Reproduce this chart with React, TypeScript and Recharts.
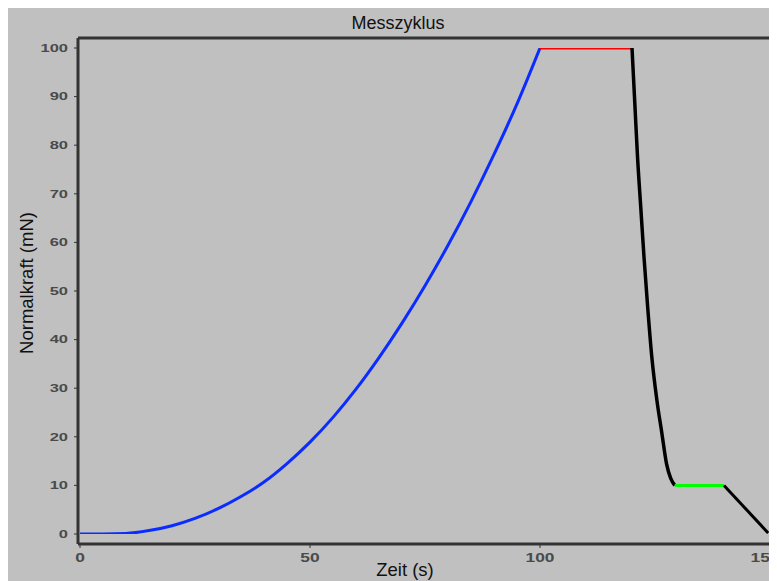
import React from 'react';
import { LineChart, Line, XAxis, YAxis } from 'recharts';

// Belastung (blau)
const loadTime = [0, 5, 10, 15, 20, 25, 30, 35, 40, 45, 50, 55, 60, 65, 70, 75, 80, 85, 90, 95, 100];
const loadForce = [0, 0, 0.1, 0.7, 1.7, 3.2, 5.2, 7.7, 10.7, 14.5, 18.9, 24.0, 29.8, 36.3, 43.4, 51.1, 59.4, 68.4, 78.1, 88.5, 100];

// Haltezeit oben (rot)
const holdTime = [100, 120];
const holdForce = [100, 100];

// Entlastung (schwarz)
const unloadTime = [120, 120.65, 121.2, 121.9, 122.6, 123.4, 124.3, 125.4, 126.5, 127.5, 128.4, 129.3];
const unloadForce = [100, 87.9, 77.6, 67.3, 57.1, 46.8, 36.5, 27.6, 20.7, 14.5, 11.5, 10];

// Haltezeit unten (grün)
const dwellTime = [129.3, 140];
const dwellForce = [10, 10];

// Rest (schwarz)
const endTime = [140, 149.6];
const endForce = [10, 0.2];

const xTicks = [0, 50, 100, 150];
const yTicks = [0, 10, 20, 30, 40, 50, 60, 70, 80, 90, 100];

const toPoints = (t: number[], f: number[]) => t.map((x, i) => ({ t: x, f: f[i] }));

const loadData = toPoints(loadTime, loadForce);
const holdData = toPoints(holdTime, holdForce);
const unloadData = toPoints(unloadTime, unloadForce);
const dwellData = toPoints(dwellTime, dwellForce);
const endData = toPoints(endTime, endForce);

const FRAME = '#333333';
const FONT = 'Arial, "Liberation Sans", sans-serif';

const YTick = (props: any) => {
  const { x, y, payload } = props;
  return (
    <text
      transform={`translate(${x},${y}) scale(1.5,1)`}
      textAnchor="end"
      dy="0.35em"
      fontSize={11}
      fontWeight="bold"
      fontFamily={FONT}
      fill="#4a4a4a"
    >
      {payload.value}
    </text>
  );
};

const XTick = (props: any) => {
  const { x, y, payload } = props;
  return (
    <text
      transform={`translate(${x},${y}) scale(1.45,1)`}
      textAnchor="middle"
      dy="0.35em"
      fontSize={12}
      fontWeight="bold"
      fontFamily={FONT}
      fill="#4a4a4a"
    >
      {payload.value}
    </text>
  );
};

export default function App() {
  const W = 769;
  const H = 573;
  return (
    <div style={{ position: 'relative', width: W, height: H, background: '#c0c0c0', overflow: 'hidden' }}>
      <LineChart width={W} height={H} margin={{ top: 29, right: 3, left: 0, bottom: 0 }}>
        <XAxis
          dataKey="t"
          type="number"
          domain={[0, 150]}
          ticks={xTicks}
          padding={{ left: 2, right: 3 }}
          height={37}
          axisLine={{ stroke: FRAME, strokeWidth: 3 }}
          tickLine={{ stroke: FRAME }}
          tickSize={4}
          tickMargin={10}
          tick={<XTick />}
          allowDataOverflow
        />
        <XAxis
          xAxisId="top"
          orientation="top"
          type="number"
          domain={[0, 150]}
          height={1}
          tick={false}
          tickLine={false}
          axisLine={{ stroke: FRAME, strokeWidth: 3 }}
        />
        <YAxis
          type="number"
          domain={[0, 100]}
          ticks={yTicks}
          padding={{ top: 10, bottom: 10 }}
          width={70}
          axisLine={{ stroke: FRAME, strokeWidth: 3 }}
          tickLine={{ stroke: FRAME }}
          tickSize={4}
          tickMargin={6}
          tick={<YTick />}
          allowDataOverflow
        />
        <YAxis
          yAxisId="right"
          orientation="right"
          type="number"
          domain={[0, 100]}
          width={1}
          tick={false}
          tickLine={false}
          axisLine={{ stroke: FRAME, strokeWidth: 3 }}
        />
        <Line data={loadData} dataKey="f" type="monotone" stroke="#0a2cff" strokeWidth={3} dot={false} isAnimationActive={false} />
        <Line data={holdData} dataKey="f" type="linear" stroke="#ff0000" strokeWidth={3} dot={false} isAnimationActive={false} />
        <Line data={unloadData} dataKey="f" type="monotone" stroke="#000000" strokeWidth={3.5} dot={false} isAnimationActive={false} />
        <Line data={dwellData} dataKey="f" type="linear" stroke="#00ff00" strokeWidth={3} dot={false} isAnimationActive={false} />
        <Line data={endData} dataKey="f" type="linear" stroke="#000000" strokeWidth={3} dot={false} isAnimationActive={false} />
      </LineChart>
      <svg width={W} height={H} style={{ position: 'absolute', left: 0, top: 0, pointerEvents: 'none' }}>
        <text x={390} y={20.5} textAnchor="middle" fontSize={18} fontFamily={FONT} fill="#111">
          Messzyklus
        </text>
        <text x={397} y={568} textAnchor="middle" fontSize={18.5} fontFamily={FONT} fill="#111">
          Zeit (s)
        </text>
        <text
          transform="translate(24.5,275) rotate(-90)"
          textAnchor="middle"
          fontSize={18.5}
          fontFamily={FONT}
          fill="#111"
        >
          Normalkraft (mN)
        </text>
      </svg>
    </div>
  );
}
